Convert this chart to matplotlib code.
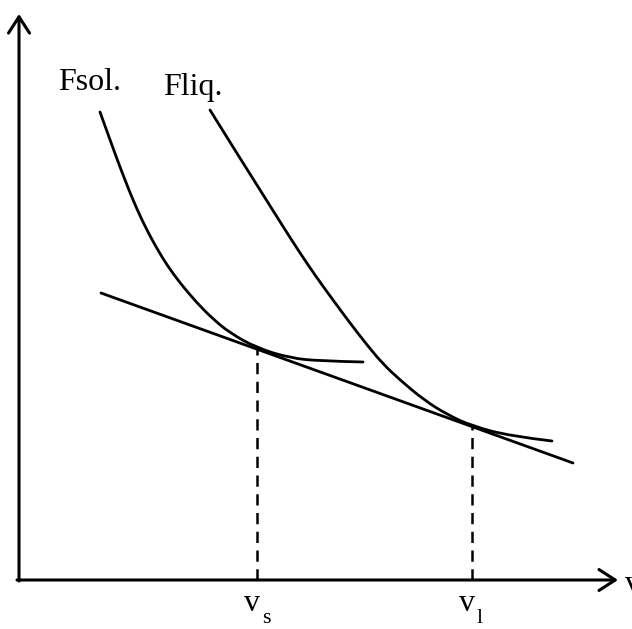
import matplotlib
matplotlib.use('Agg')
import matplotlib.pyplot as plt
from matplotlib.path import Path
from matplotlib.patches import PathPatch

# curve points (origin at the axes corner, y up)
fsol_x = [81, 90, 98, 106, 114, 122, 131, 140, 148, 161, 178, 194, 211, 238, 271, 301, 344]
fsol_y = [468, 443, 421, 400, 380, 362, 344, 328, 315, 297, 277, 261, 247, 232, 222, 219, 218]
fliq_x = [191, 214, 231, 248, 264, 281, 298, 314, 331, 348, 364, 381, 405, 428, 453, 491, 533]
fliq_y = [470, 433, 406, 379, 353.5, 327, 302, 280, 257, 235, 216, 200, 180, 165.5, 154, 144, 139]
tang_x = [82, 554]
tang_y = [287, 117]
v_s = 238
v_l = 453

def smooth_path(xs, ys):
    # quadratic Bezier through midpoints, read points act as control points
    pts = list(zip(xs, ys))
    verts = [pts[0]]
    codes = [Path.MOVETO]
    for i in range(1, len(pts) - 1):
        mid = ((pts[i][0] + pts[i + 1][0]) / 2, (pts[i][1] + pts[i + 1][1]) / 2)
        if i == len(pts) - 2:
            mid = pts[i + 1]
        verts += [pts[i], mid]
        codes += [Path.CURVE3, Path.CURVE3]
    return Path(verts, codes)

def main():
    fig = plt.figure(figsize=(6.32, 6.29), dpi=100)
    ax = fig.add_axes([0, 0, 1, 1])
    ax.set_xlim(-19, 613)
    ax.set_ylim(-49, 580)
    ax.axis('off')

    # axes with open arrow heads
    arrow = dict(arrowstyle='->,head_length=0.65,head_width=0.42', lw=2.2, color='black',
                 shrinkA=0, shrinkB=0, mutation_scale=18)
    ax.annotate('', xy=(0, 566), xytext=(0, -1), arrowprops=arrow)
    ax.annotate('', xy=(599, 0), xytext=(-2, 0), arrowprops=arrow)

    for xs, ys in [(fsol_x, fsol_y), (fliq_x, fliq_y)]:
        ax.add_patch(PathPatch(smooth_path(xs, ys), fill=False, edgecolor='black',
                               lw=2.0, capstyle='round'))
    ax.plot(tang_x, tang_y, color='black', lw=2.0, solid_capstyle='round')

    fsol_at = fsol_y[fsol_x.index(v_s)]
    fliq_at = fliq_y[fliq_x.index(v_l)]
    ax.plot([v_s, v_s], [0, fsol_at], color='black', lw=1.8, ls=(0, (4.5, 3)))
    ax.plot([v_l, v_l], [0, fliq_at], color='black', lw=1.8, ls=(0, (4.5, 3)))

    font = dict(family='Liberation Serif', color='black')
    ax.text(39, 490, 'Fsol.', fontsize=23, ha='left', va='baseline', **font)
    ax.text(144, 485, 'Fliq.', fontsize=23, ha='left', va='baseline', **font)
    ax.text(606, -12, 'v', fontsize=23, ha='left', va='baseline', **font)

    ax.text(v_s - 5, -31, 'v', fontsize=23, ha='center', va='baseline', **font)
    ax.text(v_s + 9, -43, 's', fontsize=16, ha='center', va='baseline', **font)
    ax.text(v_l - 5, -31, 'v', fontsize=23, ha='center', va='baseline', **font)
    ax.text(v_l + 8, -43, 'l', fontsize=16, ha='center', va='baseline', **font)

    fig.savefig('out.png', dpi=100)

if __name__ == '__main__':
    main()
